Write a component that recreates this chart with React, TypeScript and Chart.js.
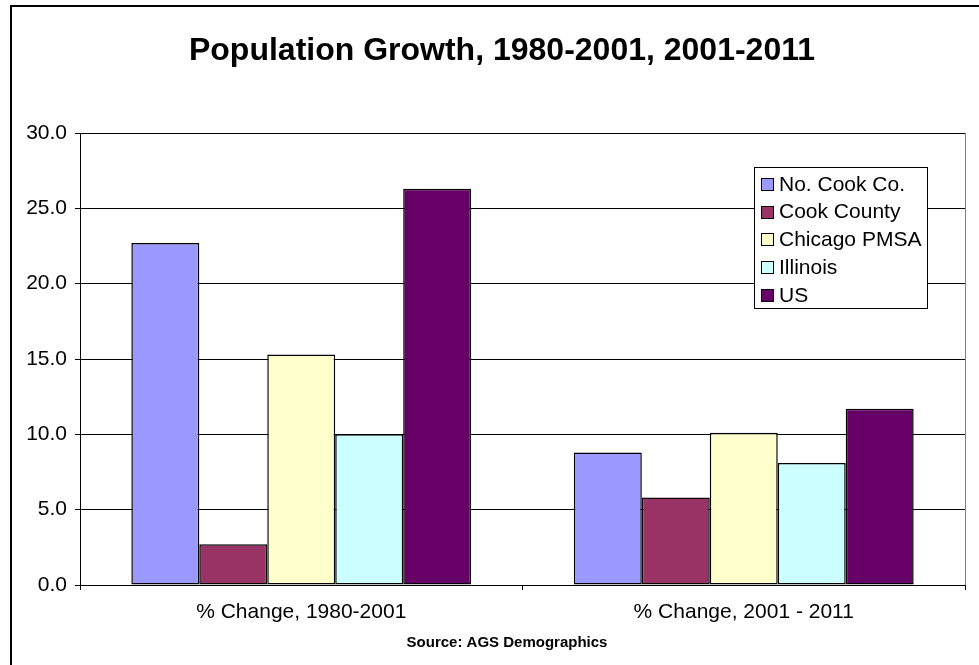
import React, { useEffect, useRef } from "react";
import { Chart, registerables } from "chart.js";

Chart.register(...registerables);

const categories = ["% Change, 1980-2001", "% Change, 2001 - 2011"];
const seriesNames = ["No. Cook Co.", "Cook County", "Chicago PMSA", "Illinois", "US"];
const noCookCo = [22.7, 8.8];
const cookCounty = [2.7, 5.8];
const chicagoPMSA = [15.3, 10.1];
const illinois = [10.0, 8.1];
const us = [26.3, 11.7];
const seriesColors = ["#9999FF", "#993366", "#FFFFCC", "#CCFFFF", "#660066"];
const titleText = "Population Growth, 1980-2001, 2001-2011";
const sourceText = "Source: AGS Demographics";

const FONT = "'Liberation Sans', Arial, sans-serif";

const decorPlugin = {
  id: "decor",
  afterDraw(chart: any) {
    const ctx = chart.ctx as CanvasRenderingContext2D;
    const area = chart.chartArea;
    ctx.save();
    // outer border
    ctx.strokeStyle = "#000";
    ctx.lineWidth = 2;
    ctx.strokeRect(11, 6, 1000, 700);
    // right plot border
    ctx.strokeStyle = "#808080";
    ctx.lineWidth = 1;
    ctx.beginPath();
    ctx.moveTo(Math.round(area.right) + 0.5, area.top);
    ctx.lineTo(Math.round(area.right) + 0.5, area.bottom);
    ctx.stroke();
    // title
    ctx.fillStyle = "#000";
    ctx.font = `bold 32px ${FONT}`;
    ctx.textAlign = "center";
    ctx.textBaseline = "middle";
    ctx.fillText(titleText, 502, 51);
    // source
    ctx.font = `bold 15px ${FONT}`;
    ctx.fillText(sourceText, 507, 643);
    // legend
    const lx = 754, ly = 167, lw = 173, lh = 141;
    ctx.fillStyle = "#fff";
    ctx.fillRect(lx, ly, lw, lh);
    ctx.strokeStyle = "#000";
    ctx.lineWidth = 1;
    ctx.strokeRect(lx + 0.5, ly + 0.5, lw, lh);
    ctx.font = `21px ${FONT}`;
    ctx.textAlign = "left";
    ctx.textBaseline = "middle";
    seriesNames.forEach((name, i) => {
      const cy = 184 + i * 27.7;
      ctx.fillStyle = seriesColors[i];
      ctx.fillRect(761, Math.round(cy - 6), 12, 12);
      ctx.strokeStyle = "#000";
      ctx.strokeRect(761.5, Math.round(cy - 6) + 0.5, 12, 12);
      ctx.fillStyle = "#000";
      ctx.fillText(name, 779, cy + 1);
    });
    ctx.restore();
  },
};

export default function App() {
  const ref = useRef<HTMLCanvasElement>(null);
  useEffect(() => {
    if (!ref.current) return;
    const data = [noCookCo, cookCounty, chicagoPMSA, illinois, us];
    const chart = new Chart(ref.current, {
      type: "bar",
      data: {
        labels: categories,
        datasets: seriesNames.map((name, i) => ({
          label: name,
          data: data[i],
          backgroundColor: seriesColors[i],
          borderColor: "#000",
          borderWidth: 1.5,
          borderSkipped: false,
          barPercentage: 1,
          categoryPercentage: 0.768,
        })),
      },
      options: {
        responsive: false,
        animation: false,
        layout: { padding: { top: 133, left: 0, right: 14, bottom: 0 } },
        plugins: {
          legend: { display: false },
          title: { display: false },
          tooltip: { enabled: false },
        },
        scales: {
          x: {
            afterFit: (s: any) => { s.height = 80; },
            grid: {
              offset: true,
              drawOnChartArea: false,
              drawTicks: true,
              tickLength: 5,
              color: "#000",
            },
            border: { color: "#000", width: 1 },
            ticks: {
              color: "#000",
              font: { family: FONT, size: 21 },
              padding: 10,
            },
          },
          y: {
            min: 0,
            max: 30,
            afterFit: (s: any) => { s.width = 80; },
            grid: {
              color: "#000",
              tickLength: 5,
            },
            border: { color: "#000", width: 1 },
            ticks: {
              stepSize: 5,
              color: "#000",
              font: { family: FONT, size: 21 },
              padding: 8,
              callback: (v: any) => Number(v).toFixed(1),
            },
          },
        },
      },
      plugins: [decorPlugin],
    });
    return () => chart.destroy();
  }, []);
  return (
    <div style={{ position: "fixed", left: 0, top: 0, width: 979, height: 665, background: "#fff" }}>
      <canvas ref={ref} width={979} height={665} style={{ display: "block" }} />
    </div>
  );
}
